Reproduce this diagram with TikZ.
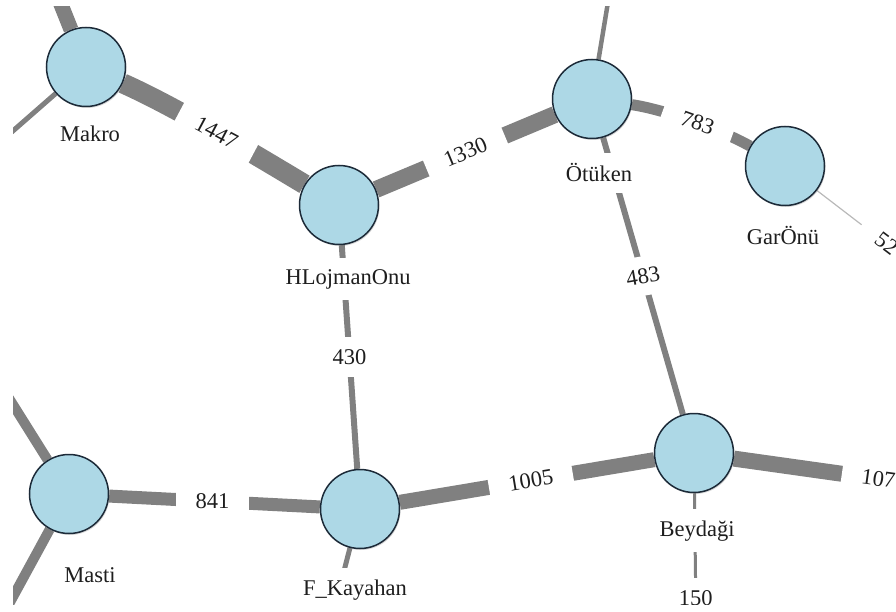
\documentclass[tikz,border=0pt]{standalone}
\usepackage{fontspec}
\setmainfont{Liberation Serif}
\usetikzlibrary{backgrounds,shadows}

\definecolor{nodefill}{RGB}{173,216,230}
\definecolor{nodeline}{RGB}{28,42,56}
\definecolor{bargray}{RGB}{128,128,128}
\definecolor{thingray}{RGB}{185,185,185}
\definecolor{ink}{RGB}{30,30,30}

\tikzset{
  station/.style={circle, draw=nodeline, line width=1.5pt, fill=nodefill,
    minimum size=79pt, inner sep=0pt,
    drop shadow={shadow xshift=1pt, shadow yshift=-1.5pt, opacity=.3}},
  name label/.style={fill=white, inner xsep=6pt, inner ysep=11pt, text=ink,
    font=\fontsize{22.5}{27}\selectfont, anchor=base},
  flow/.style={draw=bargray, line width=#1},
  flow label/.style={fill=white, inner xsep=20pt, inner ysep=12pt, text=ink,
    font=\fontsize{22.5}{27}\selectfont},
}

\begin{document}
\begin{tikzpicture}[x=1pt,y=-1pt]
\useasboundingbox (0,0) rectangle (896,612);

% stations
\node[station] (makro)   at (86,67)   {};
\node[station] (hloj)    at (339,205) {};
\node[station] (otuken)  at (592,99)  {};
\node[station] (garonu)  at (785,166) {};
\node[station] (masti)   at (69,494)  {};
\node[station] (fkay)    at (360,509) {};
\node[station] (beydagi) at (694,453) {};

% station names
\node[name label] (makro-name)   at (90,142)  {Makro};
\node[name label] (hloj-name)    at (348,284) {HLojmanOnu};
\node[name label] (otuken-name)  at (599,182) {Ötüken};
\node[name label] (garonu-name)  at (783,244) {GarÖnü};
\node[name label] (masti-name)   at (90,582)  {Masti};
\node[name label] (fkay-name)    at (355,595) {F\_Kayahan};
\node[name label] (beydagi-name) at (697,536) {Beydaği};

% loose ends of links leaving the frame
\coordinate (makro-up)   at (50,-23);
\coordinate (makro-sw)   at (-10,151);
\coordinate (otuken-up)  at (610,-10);
\coordinate (garonu-se)  at (1000,331);
\coordinate (masti-nw)   at (-10,368);
\coordinate (masti-sw)   at (-10,639);
\coordinate (fkay-s)     at (321,660);
\coordinate (beydagi-e)  at (1000,496);
\coordinate (beydagi-s)  at (697,700);

% links, drawn behind the stations
\begin{scope}[on background layer]
\clip (13,7) rectangle (896,604);
\draw[flow=15pt] (makro) -- (makro-up);
\draw[flow=5pt]  (makro) -- (makro-sw);
\draw[flow=20pt] (makro) .. controls (176,107) and (259,157) ..
  node[flow label, pos=.5, rotate=-28] (l1447) {1447} (hloj);
\draw[flow=17pt] (hloj) -- node[flow label, rotate=22.7] (l1330) {1330} (otuken);
\draw[flow=6pt]  (hloj) -- node[flow label] (l430) {430} (fkay);
\draw[flow=4.5pt] (otuken) -- (otuken-up);
\draw[flow=11pt] (otuken) .. controls (662,109) and (720,129) ..
  node[flow label, pos=.55, rotate=-20] (l783) {783} (garonu);
\draw[flow=6pt]  (otuken) -- node[flow label, rotate=10] (l483) {483} (beydagi);
\draw[draw=thingray, line width=1.2pt] (garonu) --
  node[flow label, pos=.38, rotate=-37] (l52) {52} (garonu-se);
\draw[flow=10pt] (masti) -- (masti-nw);
\draw[flow=10pt] (masti) -- (masti-sw);
\draw[flow=13pt] (masti) -- node[flow label, pos=.49] (l841) {841} (fkay);
\draw[flow=5pt]  (fkay) -- (fkay-s);
\draw[flow=15pt] (fkay) -- node[flow label, pos=.515, rotate=9.5] (l1005) {1005} (beydagi);
\draw[flow=16pt] (beydagi) -- node[flow label, pos=.543, rotate=-8] (l107) {107} (beydagi-e);
\draw[flow=3pt]  (beydagi) -- node[flow label, pos=.507] (l150) {150} (beydagi-s);
\end{scope}
\end{tikzpicture}
\end{document}
